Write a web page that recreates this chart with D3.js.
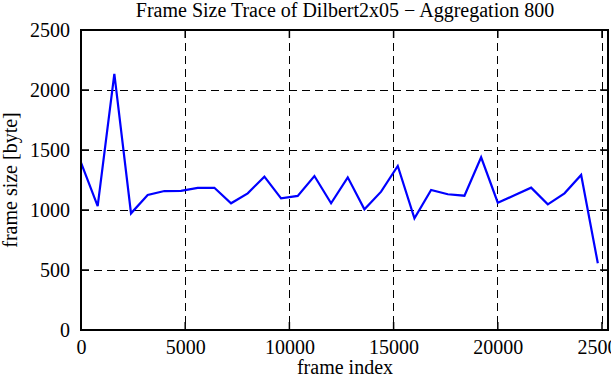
<!DOCTYPE html>
<html><head><meta charset="utf-8">
<script src="https://cdn.jsdelivr.net/npm/d3@7"></script>
<style>
html,body{margin:0;padding:0;background:#fff;}
svg{display:block;}
</style></head>
<body>
<script>
const title = "Frame Size Trace of Dilbert2x05 \u2212 Aggregation 800";
const xLabel = "frame index";
const yLabel = "frame size [byte]";
const aggregation = 800;
const frameSizes = [1394, 1032, 2135, 972, 1125, 1158, 1160, 1185, 1185, 1056, 1139, 1278, 1097, 1117, 1283, 1056, 1272, 1006, 1153, 1367, 931, 1167, 1131, 1119, 1439, 1061, 1122, 1186, 1047, 1139, 1292, 556];
const frameIndex = frameSizes.map((d, i) => i * aggregation);
const xTicks = [0, 5000, 10000, 15000, 20000, 25000];
const yTicks = [0, 500, 1000, 1500, 2000, 2500];

const FONT = "'Liberation Serif', 'Times New Roman', serif";
const W = 611, H = 380;
const L = 81, R = 608, T = 30, B = 330;
const svg = d3.select("body").append("svg").attr("width", W).attr("height", H);

const x = d3.scaleLinear().domain([0, 25000]).range([L, 602]);
const y = d3.scaleLinear().domain([0, 2500]).range([B, T]);

// grid
const grid = svg.append("g").attr("stroke", "#000").attr("stroke-width", 1)
  .attr("stroke-dasharray", "8,5").attr("shape-rendering", "crispEdges");
grid.selectAll("line.v").data(xTicks.slice(1)).join("line")
  .attr("x1", d => x(d)).attr("x2", d => x(d)).attr("y1", T).attr("y2", B);
grid.selectAll("line.h").data(yTicks.slice(1, -1)).join("line")
  .attr("x1", L).attr("x2", R).attr("y1", d => y(d)).attr("y2", d => y(d));

// ticks inward on all sides
const tk = 8;
const ticks = svg.append("g").attr("stroke", "#000").attr("stroke-width", 1.5);
xTicks.forEach(d => {
  ticks.append("line").attr("x1", x(d)).attr("x2", x(d)).attr("y1", B).attr("y2", B - tk);
  ticks.append("line").attr("x1", x(d)).attr("x2", x(d)).attr("y1", T).attr("y2", T + tk);
});
yTicks.forEach(d => {
  ticks.append("line").attr("x1", L).attr("x2", L + tk).attr("y1", y(d)).attr("y2", y(d));
  ticks.append("line").attr("x1", R).attr("x2", R - tk).attr("y1", y(d)).attr("y2", y(d));
});

// axes labels via d3 axes
const xAxis = svg.append("g").attr("transform", `translate(0,${B})`)
  .call(d3.axisBottom(x).tickValues(xTicks).tickSize(0).tickPadding(10).tickFormat(d3.format("d")));
const yAxis = svg.append("g").attr("transform", `translate(${L},0)`)
  .call(d3.axisLeft(y).tickValues(yTicks).tickSize(0).tickPadding(11).tickFormat(d3.format("d")));
[xAxis, yAxis].forEach(a => {
  a.attr("font-family", null).attr("font-size", null);
  a.select(".domain").remove();
  a.selectAll("text").style("font-family", FONT).style("font-size", "20px").style("fill", "#000");
});

// line
svg.append("path").datum(frameSizes.map((v, i) => [frameIndex[i], v]))
  .attr("fill", "none").attr("stroke", "#0000ff").attr("stroke-width", 2.2)
  .attr("stroke-linejoin", "miter")
  .attr("d", d3.line().x(d => x(d[0])).y(d => y(d[1])));

// frame
svg.append("rect").attr("x", L).attr("y", T).attr("width", R - L).attr("height", B - T)
  .attr("fill", "none").attr("stroke", "#000").attr("stroke-width", 2);

svg.append("text").attr("x", 345).attr("y", 17).attr("text-anchor", "middle")
  .style("font-family", FONT).style("font-size", "20px").text(title);
svg.append("text").attr("x", 345).attr("y", 374).attr("text-anchor", "middle")
  .style("font-family", FONT).style("font-size", "20px").text(xLabel);
svg.append("text").attr("transform", "translate(17,180) rotate(-90)").attr("text-anchor", "middle")
  .style("font-family", FONT).style("font-size", "20px").text(yLabel);
</script>
</body></html>
